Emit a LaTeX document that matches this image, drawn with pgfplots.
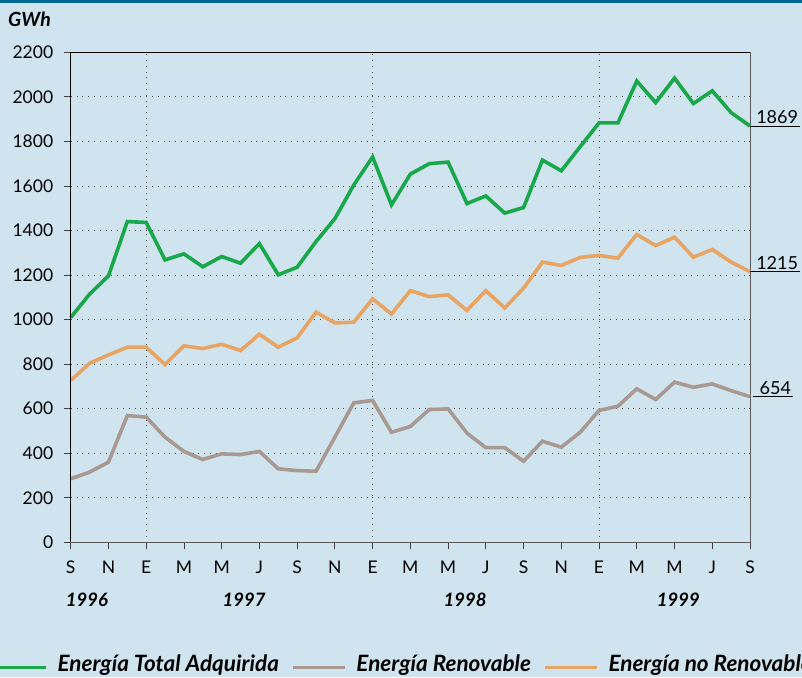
\documentclass[border=0pt]{standalone}
\usepackage{fontspec}
\setmainfont{Lato}
\usepackage{pgfplots}
\pgfplotsset{compat=1.18}
\usepackage{pgfplotstable}
\definecolor{bgc}{RGB}{208,228,240}
\definecolor{topbar}{RGB}{0,104,148}
\definecolor{cgreen}{RGB}{24,168,74}
\definecolor{cgray}{RGB}{168,154,146}
\definecolor{corange}{RGB}{232,164,98}
\pgfplotstableread{
idx total ren noren
0 1009 285 726
1 1114 315 804
2 1196 360 841
3 1440 569 876
4 1436 562 876
5 1268 472 798
6 1295 408 882
7 1237 372 870
8 1283 397 889
9 1253 394 861
10 1341 408 934
11 1201 330 876
12 1235 322 918
13 1350 319 1033
14 1453 472 985
15 1604 626 988
16 1730 637 1093
17 1515 494 1025
18 1653 520 1130
19 1700 596 1103
20 1707 599 1111
21 1521 490 1041
22 1555 425 1130
23 1478 425 1052
24 1503 364 1141
25 1716 454 1258
26 1668 427 1243
27 1776 494 1279
28 1883 592 1288
29 1883 611 1276
30 2071 689 1382
31 1974 641 1332
32 2084 719 1370
33 1970 696 1280
34 2027 711 1315
35 1929 681 1258
36 1869 654 1215
}\datatable
\begin{document}
\begin{tikzpicture}
\fill[bgc] (0,0) rectangle (802pt,677pt);
\fill[topbar] (0,674pt) rectangle (802pt,677pt);
\node[anchor=base west, inner sep=0pt, font=\fontsize{19.5}{21}\selectfont\bfseries\itshape] at (8pt,650pt) {GWh};
\begin{axis}[
  scale only axis, width=679.3pt, height=490pt,
  at={(70.7pt,134.7pt)}, anchor=south west,
  xmin=0, xmax=36, ymin=0, ymax=2200,
  xtick={0,2,...,36},
  xticklabels={S,N,E,M,M,J,S,N,E,M,M,J,S,N,E,M,M,J,S},
  ytick={0,200,...,2200},
  tick align=outside, xtick pos=bottom, ytick pos=left,
  major tick length=7pt,
  tick style={black!75, line width=0.8pt},
  axis line style={black!65, line width=0.9pt},
  ymajorgrids,
  grid style={black!70, line width=0.7pt, dash pattern=on 0.8pt off 5pt},
  extra x ticks={4,16,28}, extra x tick labels={},
  extra x tick style={xmajorgrids=true, major tick length=0pt},
  ticklabel style={font=\fontsize{17.5}{18}\selectfont},
  xticklabel style={yshift=-8pt},
  yticklabel style={xshift=-7pt},
  /pgf/number format/assume math mode=true,
  /pgf/number format/1000 sep={},
  clip=false,
  legend columns=3,
  legend image code/.code={\draw[#1] (0pt,-3.5pt) -- (52pt,-3.5pt);},
  legend style={at={(axis description cs:-0.1158,-0.2484)}, anchor=west,
    draw=none, fill=none, inner sep=0pt, outer sep=0pt,
    font=\fontsize{22.5}{24}\selectfont\bfseries\itshape,
    /tikz/every odd column/.append style={column sep=8pt},
    /tikz/every even column/.append style={column sep=10pt}},
]
\addplot[cgreen, line width=3.6pt] table[x=idx, y=total] {\datatable};
\addlegendentry{Energía Total Adquirida}
\addplot[cgray, line width=3.6pt] table[x=idx, y=ren] {\datatable};
\addlegendentry{Energía Renovable}
\addplot[corange, line width=3.6pt] table[x=idx, y=noren] {\datatable};
\addlegendentry{Energía no Renovable}
\draw[black, line width=1pt] (rel axis cs:0,0) -- (rel axis cs:0,1) -- (rel axis cs:1,1);
\draw[black, line width=0.9pt] (axis cs:36,1869) -- ++(50pt,0pt) node[anchor=south east, inner sep=1.5pt, font=\fontsize{18}{19}\selectfont] {1869};
\draw[black, line width=0.9pt] (axis cs:36,1215) -- ++(50pt,0pt) node[anchor=south east, inner sep=1.5pt, font=\fontsize{18}{19}\selectfont] {1215};
\draw[black, line width=0.9pt] ([xshift=3pt]axis cs:36,654) -- ++(40pt,0pt) node[anchor=south east, inner sep=1.5pt, font=\fontsize{18}{19}\selectfont] {654};
\node[font=\fontsize{18.5}{20}\selectfont\bfseries\itshape] at (axis cs:0.86,-257) {1996};
\node[font=\fontsize{18.5}{20}\selectfont\bfseries\itshape] at (axis cs:9.19,-257) {1997};
\node[font=\fontsize{18.5}{20}\selectfont\bfseries\itshape] at (axis cs:20.9,-257) {1998};
\node[font=\fontsize{18.5}{20}\selectfont\bfseries\itshape] at (axis cs:32.2,-257) {1999};
\end{axis}
\pgfresetboundingbox
\useasboundingbox (0,0) rectangle (802pt,677pt);
\end{tikzpicture}
\end{document}
